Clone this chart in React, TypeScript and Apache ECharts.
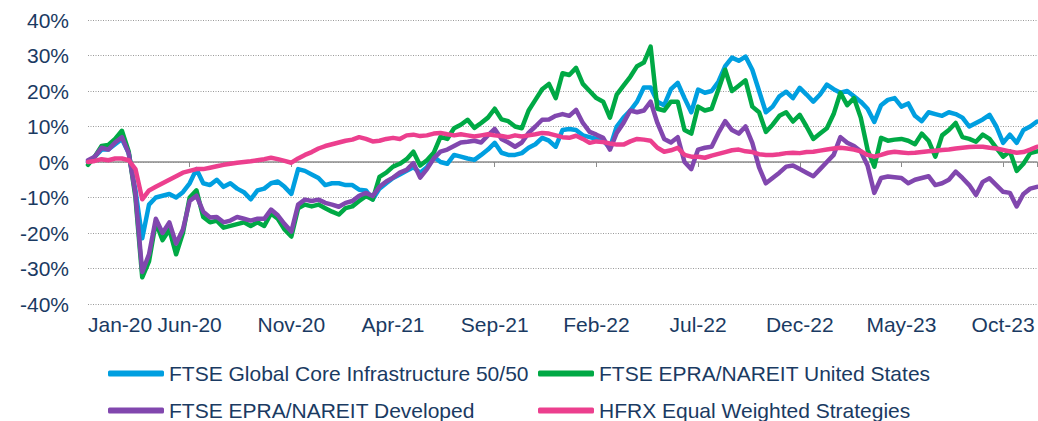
import React, { useEffect, useRef } from "react";
import * as echarts from "echarts";

// x positions are observation indices, 3 observations per month starting Jan-20
const tickLabels = ["Jan-20", "Jun-20", "Nov-20", "Apr-21", "Sep-21", "Feb-22", "Jul-22", "Dec-22", "May-23", "Oct-23"];
const seriesNames = [
  "FTSE Global Core Infrastructure 50/50",
  "FTSE EPRA/NAREIT United States",
  "FTSE EPRA/NAREIT Developed",
  "HFRX Equal Weighted Strategies",
];
const colors = ["#009FE0", "#00A945", "#8147AE", "#EC3F8E"];

const infra = [
  0, 1.5, 3.5, 3.5, 5, 6.5, 2.5, -8, -21.5, -12,
  -10, -9.5, -9, -10, -8.5, -6, -2, -6, -6.5, -5,
  -7, -6, -7.5, -8.5, -10.5, -8, -7.5, -6, -5.5, -7,
  -9, -2, -2.5, -3.5, -4.5, -6.5, -6, -6, -6.5, -6.5,
  -7.8, -8, -10.5, -7.5, -6, -4.5, -3.5, -2.5, -1.5, -3,
  -1.5, 1.5, 0, -0.5, 2, 1.5, 1, 0.6, 2, 3.5,
  5.4, 2.6, 2, 2, 2.5, 4, 5, 6.8, 6, 4.3,
  9, 9.3, 9, 7.5, 7, 6.5, 6, 4, 10, 12.5,
  14.5, 17, 21, 21, 17, 16, 20.5, 22.3, 18, 14,
  20.4, 19.5, 20, 22.6, 27, 29.4, 28.5, 29.7, 26, 20,
  14, 15.6, 18.5, 19.8, 18, 20.9, 19, 17, 19, 21.8,
  20.5, 19.5, 20, 18.5, 17, 15, 11.3, 16, 17.5, 18,
  15.6, 16.5, 13, 11.5, 14, 13.5, 13, 14, 13.5, 12.5,
  10, 11, 12, 13.3, 10, 5.4, 7.7, 5.4, 9, 10,
  11.4,
];

const usReit = [
  -0.8, 1.5, 4.5, 4.8, 6.5, 8.8, 3, -10, -32.5, -28,
  -17, -22, -19, -26, -20, -10, -8, -15.5, -17, -16.5,
  -18.5, -18, -17.5, -17, -18, -17, -18, -14.5, -16, -19,
  -21, -13, -12, -12.5, -12, -13, -14, -14.8, -13, -12.5,
  -11, -9.6, -10.6, -4.2, -3, -1.3, -0.5, 0.8, 2.9, -1,
  0.5, 2.6, 7.1, 6.5, 9.5, 10.5, 11.9, 9.6, 11, 12.5,
  15, 12, 11.5, 10, 9.5, 14.5, 17.5, 20.5, 22, 18,
  25, 24.5, 26.5, 22, 20, 18, 17, 12.5, 19, 21.5,
  24, 27, 28, 32.5, 15, 14.5, 17, 17, 9, 8,
  15.6, 14.5, 15, 20.4, 26, 20, 21.5, 23, 15.6, 14,
  8.5, 10.5, 13, 14, 11.4, 13.3, 10, 6.5, 8, 9.5,
  13.5, 19.5, 16, 18, 12.5, 3.5, -1.3, 6.8, 6, 6.3,
  6.5, 6, 5, 8, 6, 1.5, 7.5, 9, 11, 7,
  6.5, 5.7, 7.7, 6.5, 4, 1.5, 3, -2.5, -0.5, 2.5,
  3,
];

const devReit = [
  0.5, 1.5, 4, 3.5, 5.5, 7, 2.5, -9, -31, -26,
  -16, -20, -17, -23, -19, -11, -9.5, -14, -15.6, -15.5,
  -17, -16.5, -15.5, -16, -16.5, -16, -16, -13.4, -15, -17.5,
  -19.6, -12, -10.6, -11, -10.6, -11.5, -12, -12.6, -11.5, -11,
  -9.5, -8.7, -9.6, -7, -5.5, -4.4, -3, -2.2, -0.3, -4.4,
  -2, 1, 2.9, 3.5, 4.5, 5.5, 5.7, 6, 5.5, 7.5,
  9.3, 6.5, 5.5, 4.3, 5.5, 8.2, 10, 11.9, 12, 13,
  13.5, 13, 14.7, 11, 8.5, 7.7, 6.8, 3.5, 8.2, 11,
  14.5, 14, 14.5, 17, 11, 6.5, 5.5, 7, 0, -2,
  3.5, 4, 4.3, 8.2, 11.5, 9, 8, 10, 5.4, -1.5,
  -6, -4.5, -3, -1.3, -1, -2, -3, -4, -2, 0,
  2, 7, 5.4, 4.5, 3, -1, -8.7, -4.5, -4.1, -4.3,
  -4.5, -6, -5, -4.5, -4, -6.5, -6, -5, -2.7, -4.5,
  -6.5, -9.3, -5.6, -4.6, -6.5, -8.4, -8.7, -12.5, -9, -7.5,
  -7,
];

const hfrx = [
  0, 0.3, 0.8, 0.5, 1, 1, 0.5, -2, -10.5, -8,
  -7, -6, -5, -4, -3, -2.5, -2, -2, -1.6, -1.2,
  -0.8, -0.5, -0.2, 0, 0.2, 0.5, 0.8, 1.2, 0.8, 0.3,
  -0.2, 1, 2, 2.8, 3.8, 4.5, 5, 5.5, 6, 6.3,
  7, 6.5, 5.8, 6, 6.5, 6.8, 6.5, 7.5, 7.7, 7.3,
  7.5, 8, 8.2, 7.8, 7.5, 7.8, 7.5, 7.2, 7.5, 7.8,
  7.5, 7.3, 7, 7.5, 7.2, 7.5, 7.8, 8.2, 8, 7.5,
  7, 6.8, 7.4, 6.5, 5.4, 5.8, 5.6, 5.2, 4.9, 4.9,
  5.8, 6.5, 6.3, 6, 4, 2.9, 3.3, 4, 2, 1.5,
  1.5, 1.2, 1.8, 2.3, 2.8, 3.3, 3.5, 3, 2.8, 2.2,
  2, 2, 2.2, 2.5, 2.6, 2.5, 2.8, 2.9, 3.2, 3.5,
  3.8, 4, 3.8, 3.5, 3, 2, 1.5, 2, 2.6, 2.9,
  2.7, 2.5, 2.6, 2.8, 3, 3.2, 3.4, 3.5, 3.8, 4,
  4.2, 4.3, 4.3, 4, 3.8, 3.4, 3, 2.6, 2.8, 3.5,
  4.3,
];

const allValues = [infra, usReit, devReit, hfrx];

const TEXT = "#1A3A62";
const FONT = "Liberation Sans, Arial, sans-serif";

export default function App() {
  const ref = useRef<HTMLDivElement>(null);
  useEffect(() => {
    if (!ref.current) return;
    const chart = echarts.init(ref.current, null, { renderer: "svg" });
    const lastIndex = infra.length - 1;
    const legendPos = [
      { left: 103, top: 358 },
      { left: 533, top: 358 },
      { left: 103, top: 395 },
      { left: 533, top: 395 },
    ];
    chart.setOption({
      animation: false,
      backgroundColor: "#ffffff",
      textStyle: { fontFamily: FONT },
      grid: { left: 88, top: 20, width: 949, height: 284 },
      legend: seriesNames.map((n, k) => ({
        data: [n],
        ...legendPos[k],
        icon: "roundRect",
        itemWidth: 56,
        itemHeight: 6,
        textStyle: { fontSize: 21, color: TEXT, fontFamily: FONT },
        selectedMode: false,
      })),
      xAxis: [
        {
          type: "value",
          min: 0,
          max: lastIndex,
          interval: 15,
          position: "bottom",
          axisLine: { show: false, onZero: false },
          axisTick: { show: false },
          splitLine: { show: false },
          axisLabel: {
            fontSize: 21,
            color: TEXT,
            fontFamily: FONT,
            margin: 10,
            alignMinLabel: "left",
            showMaxLabel: false,
            formatter: (v: number) => (v % 15 === 0 ? tickLabels[v / 15] ?? "" : ""),
          },
        },
        {
          type: "value",
          min: 0,
          max: lastIndex,
          interval: 15,
          position: "bottom",
          axisLine: { show: true, onZero: true, lineStyle: { color: "#8C8C8C", width: 1.5 } },
          axisTick: { show: true, length: 5, lineStyle: { color: "#8C8C8C", width: 1 } },
          axisLabel: { show: false },
          splitLine: { show: false },
        },
      ],
      yAxis: {
        type: "value",
        min: -40,
        max: 40,
        interval: 10,
        axisLine: { show: false },
        axisTick: { show: false },
        axisLabel: {
          fontSize: 21,
          color: TEXT,
          fontFamily: FONT,
          margin: 19,
          formatter: "{value}%",
        },
        splitLine: { show: true, lineStyle: { color: "#9A9A9A", type: [1, 1.5], width: 1 } },
      },
      series: seriesNames.map((n, k) => ({
        name: n,
        type: "line",
        xAxisIndex: 0,
        showSymbol: false,
        symbol: "none",
        data: allValues[k].map((v, i) => [i, v]),
        lineStyle: { color: colors[k], width: 4.5, join: "round", cap: "round" },
        itemStyle: { color: colors[k] },
        z: 2 + k,
      })),
    });
    return () => chart.dispose();
  }, []);
  return (
    <div
      ref={ref}
      style={{ position: "fixed", left: 0, top: 0, width: 1038, height: 421, background: "#fff" }}
    />
  );
}
